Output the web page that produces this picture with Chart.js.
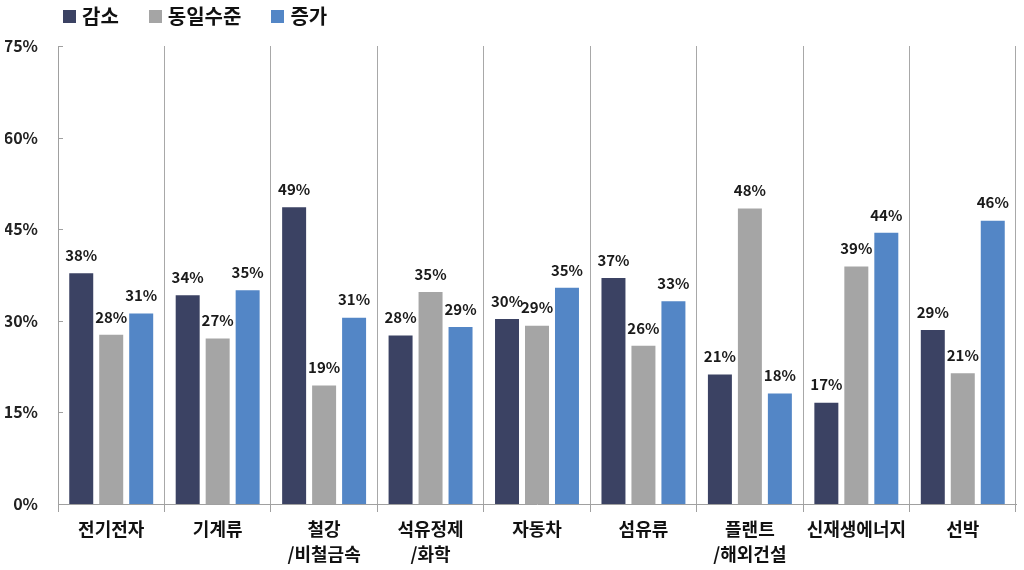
<!DOCTYPE html>
<html>
<head>
<meta charset="utf-8">
<script src="https://cdn.jsdelivr.net/npm/chart.js@4/dist/chart.umd.min.js"></script>
<style>
  html, body { margin: 0; padding: 0; background: #fff; }
  #wrap { position: relative; width: 1024px; height: 570px; }
  #legend { position: absolute; left: 63px; top: 5px; display: flex; align-items: center;
            font-family: "Noto Sans CJK KR", "Noto Sans", sans-serif; font-weight: 700; font-size: 20px;
            line-height: 22px; color: #111; }
  .item { display: flex; align-items: center; margin-right: 30px; }
  .box { width: 13px; height: 13px; margin-right: 6px; }
</style>
</head>
<body>
<div id="wrap">
  <canvas id="c" width="1024" height="570"></canvas>
  <div id="legend"></div>
</div>
<script>
const categories = [['전기전자'], ['기계류'], ['철강', '/비철금속'], ['석유정제', '/화학'], ['자동차'], ['섬유류'], ['플랜트', '/해외건설'], ['신재생에너지'], ['선박']];
const seriesNames = ['감소', '동일수준', '증가'];
const decrease = [37.8, 34.2, 48.6, 27.6, 30.3, 37.0, 21.2, 16.6, 28.5];
const same = [27.7, 27.1, 19.4, 34.7, 29.2, 25.9, 48.4, 38.9, 21.4];
const increase = [31.2, 35.0, 30.5, 29.0, 35.4, 33.2, 18.1, 44.4, 46.4];
const yTicks = [0, 15, 30, 45, 60, 75];

const colors = ['#3B4263', '#A5A5A5', '#5386C6'];
const FONT = '"Noto Sans CJK KR", "Noto Sans", sans-serif';

const valueLabels = {
  id: 'valueLabels',
  afterDatasetsDraw(chart) {
    const ctx = chart.ctx;
    ctx.save();
    ctx.font = 'bold 15px ' + FONT;
    ctx.fillStyle = '#1a1a1a';
    ctx.textAlign = 'center';
    ctx.textBaseline = 'middle';
    chart.data.datasets.forEach((ds, di) => {
      const meta = chart.getDatasetMeta(di);
      meta.data.forEach((bar, i) => {
        ctx.fillText(Math.round(ds.data[i]) + '%', bar.x, bar.y - 18);
      });
    });
    ctx.restore();
  },
  afterDraw(chart) {
    const ys = chart.scales.y;
    const ctx = chart.ctx;
    ctx.save();
    ctx.strokeStyle = '#A0A0A0';
    ctx.lineWidth = 1;
    ys.ticks.forEach(t => {
      const py = Math.round(ys.getPixelForValue(t.value)) + 0.5;
      ctx.beginPath();
      ctx.moveTo(ys.right, py);
      ctx.lineTo(ys.right + 5, py);
      ctx.stroke();
    });
    ctx.restore();
  }
};

const chart = new Chart(document.getElementById('c'), {
  type: 'bar',
  data: {
    labels: categories,
    datasets: [
      { label: seriesNames[0], data: decrease, backgroundColor: colors[0] },
      { label: seriesNames[1], data: same, backgroundColor: colors[1] },
      { label: seriesNames[2], data: increase, backgroundColor: colors[2] }
    ]
  },
  options: {
    responsive: false,
    animation: false,
    layout: { padding: { top: 46, left: 5, right: 8, bottom: 0 } },
    datasets: { bar: { categoryPercentage: 0.845, barPercentage: 0.8 } },
    plugins: { legend: { display: false }, tooltip: { enabled: false } },
    scales: {
      x: {
        grid: {
          offset: true,
          color: '#A8A8A8',
          lineWidth: 1,
          borderDash: [2, 2],
          tickBorderDash: [],
          tickColor: '#A0A0A0',
          tickLength: 8,
          drawOnChartArea: true
        },
        border: { display: true, color: '#A0A0A0' },
        ticks: {
          font: { family: FONT, size: 18, weight: 'bold', lineHeight: 1.38 },
          color: '#111',
          padding: 5,
          maxRotation: 0,
          autoSkip: false
        },
        afterFit(scale) { scale.height = 66; }
      },
      y: {
        min: 0,
        max: 75,
        afterBuildTicks(scale) { scale.ticks = yTicks.map(v => ({ value: v })); },
        grid: { display: false, drawTicks: false },
        border: { display: true, color: '#A0A0A0' },
        ticks: {
          font: { family: FONT, size: 16, weight: 'bold' },
          color: '#222',
          padding: 20,
          callback: v => v + '%'
        },
        afterFit(scale) { scale.width = 53; }
      }
    }
  },
  plugins: [valueLabels]
});

const legend = document.getElementById('legend');
chart.data.datasets.forEach(ds => {
  const item = document.createElement('div');
  item.className = 'item';
  const box = document.createElement('div');
  box.className = 'box';
  box.style.background = ds.backgroundColor;
  const txt = document.createElement('span');
  txt.textContent = ds.label;
  item.appendChild(box);
  item.appendChild(txt);
  legend.appendChild(item);
});
</script>
</body>
</html>
